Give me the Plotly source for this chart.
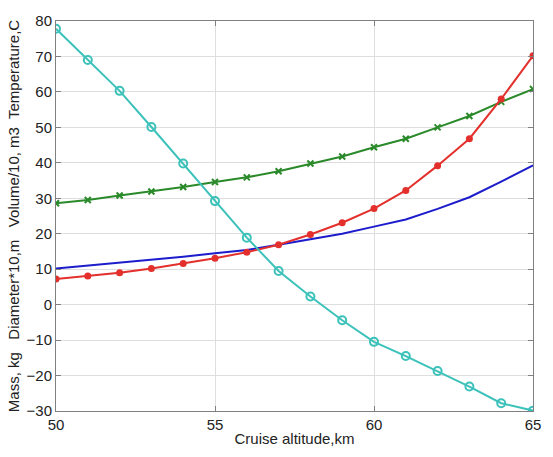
import plotly.graph_objects as go

altitude = [50, 51, 52, 53, 54, 55, 56, 57, 58, 59, 60, 61, 62, 63, 64, 65]
temperature = [77.8, 69.0, 60.3, 50.1, 39.8, 29.2, 18.9, 9.5, 2.3, -4.4, -10.5, -14.5, -18.7, -23.1, -27.8, -29.9]
volume = [28.6, 29.5, 30.8, 31.9, 33.2, 34.6, 35.9, 37.6, 39.8, 41.8, 44.4, 46.8, 50.0, 53.2, 57.2, 60.8]
mass = [7.2, 8.1, 9.0, 10.2, 11.6, 13.1, 14.8, 16.9, 19.8, 23.1, 27.1, 32.2, 39.2, 46.8, 58.0, 70.2]
diameter = [10.2, 11.0, 11.8, 12.7, 13.5, 14.5, 15.4, 16.9, 18.4, 20.0, 22.0, 24.0, 27.0, 30.3, 34.7, 39.3]

x_ticks = [50, 55, 60, 65]
y_ticks = [-30, -20, -10, 0, 10, 20, 30, 40, 50, 60, 70, 80]

fig = go.Figure()
fig.add_trace(go.Scatter(x=altitude, y=diameter, mode="lines",
                         line=dict(color="#1c1ccc", width=2), name="Diameter"))
fig.add_trace(go.Scatter(x=altitude, y=volume, mode="lines+markers",
                         line=dict(color="#2a8a2a", width=2),
                         marker=dict(symbol="x-thin-open", size=6,
                                     line=dict(color="#1f6f1f", width=2)),
                         name="Volume"))
fig.add_trace(go.Scatter(x=altitude, y=mass, mode="lines+markers",
                         line=dict(color="#e3302c", width=2),
                         marker=dict(symbol="circle", size=7, color="#e3302c"),
                         name="Mass"))
fig.add_trace(go.Scatter(x=altitude, y=temperature, mode="lines+markers",
                         line=dict(color="#3cc2ba", width=2),
                         marker=dict(symbol="circle-open", size=8,
                                     line=dict(color="#3cc2ba", width=2)),
                         name="Temperature"))

axis_common = dict(
    showline=True, linecolor="#808080", linewidth=1, mirror="ticks",
    ticks="inside", ticklen=5, tickcolor="#808080",
    showgrid=True, gridcolor="#dedede", gridwidth=1, zeroline=False,
    tickfont=dict(family="Liberation Sans, Arial", size=15, color="#222222"),
)

fig.update_layout(
    width=553, height=457,
    margin=dict(l=56, r=12, t=21, b=45),
    paper_bgcolor="white", plot_bgcolor="white",
    showlegend=False,
    font=dict(family="Liberation Sans, Arial", size=15, color="#222222"),
    xaxis=dict(range=[50, 65], tickvals=x_ticks,
               title=dict(text="Cruise altitude,km", standoff=1,
                          font=dict(size=15)),
               **axis_common),
    yaxis=dict(range=[-30, 80], tickvals=y_ticks,
               title=dict(text="Mass, kg   Diameter*10,m   Volume/10, m3  Temperature,C",
                          standoff=3, font=dict(size=15)),
               **axis_common),
)

fig.write_html("out.html")
